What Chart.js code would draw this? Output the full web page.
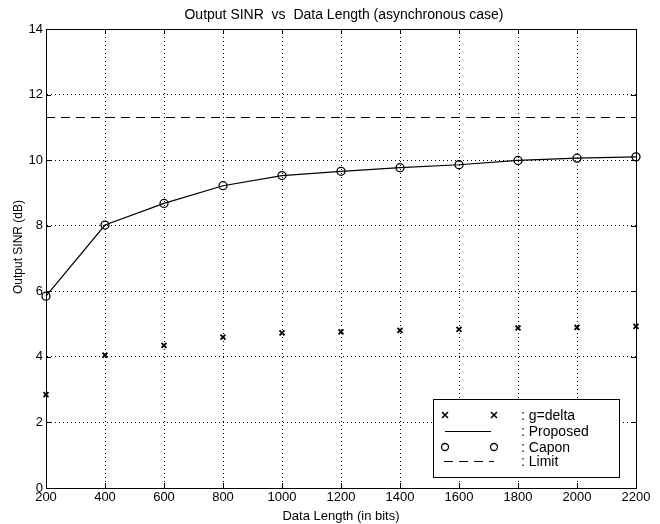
<!DOCTYPE html>
<html>
<head>
<meta charset="utf-8">
<script src="https://cdn.jsdelivr.net/npm/chart.js@4.4.0/dist/chart.umd.min.js"></script>
<style>
  html, body { margin: 0; padding: 0; background: #fff; }
  #wrap { width: 660px; height: 524px; }
</style>
</head>
<body>
<div id="wrap"><canvas id="sinrChart"></canvas></div>
<script>
// data
const dataLength = [200, 400, 600, 800, 1000, 1200, 1400, 1600, 1800, 2000, 2200];
const gDelta   = [2.85, 4.05, 4.35, 4.6, 4.73, 4.76, 4.81, 4.84, 4.88, 4.9, 4.93];
const proposed = [5.85, 8.02, 8.68, 9.22, 9.53, 9.66, 9.77, 9.86, 9.99, 10.06, 10.1];
const capon    = [5.85, 8.02, 8.68, 9.22, 9.53, 9.66, 9.77, 9.86, 9.99, 10.06, 10.1];
const limitSINR = 11.3;
const xTicks = [200, 400, 600, 800, 1000, 1200, 1400, 1600, 1800, 2000, 2200];
const yTicks = [0, 2, 4, 6, 8, 10, 12, 14];

const font = "'Liberation Sans', Arial, Helvetica, sans-serif";

const toPts = ys => dataLength.map((x, i) => ({ x: x, y: ys[i] }));

// frame, inward ticks, title, y label and legend, matlab style
const matlabBits = {
    id: 'matlabBits',
    afterDraw(chart) {
        const c = chart.ctx;
        const a = chart.chartArea;
        const sx = chart.scales.x, sy = chart.scales.y;
        c.save();
        c.strokeStyle = '#000';
        c.lineWidth = 1;
        c.strokeRect(a.left + 0.5, a.top + 0.5, a.right - a.left, a.bottom - a.top);

        // little inward ticks on all four sides
        c.beginPath();
        xTicks.forEach(v => {
            const px = Math.round(sx.getPixelForValue(v)) + 0.5;
            c.moveTo(px, a.bottom); c.lineTo(px, a.bottom - 5);
            c.moveTo(px, a.top); c.lineTo(px, a.top + 5);
        });
        yTicks.forEach(v => {
            const py = Math.round(sy.getPixelForValue(v)) + 0.5;
            c.moveTo(a.left, py); c.lineTo(a.left + 5, py);
            c.moveTo(a.right, py); c.lineTo(a.right - 5, py);
        });
        c.stroke();

        c.fillStyle = '#000';
        c.font = '14px ' + font;
        c.textAlign = 'center';
        c.textBaseline = 'middle';
        c.fillText('Output SINR  vs  Data Length (asynchronous case)', 344, 15);

        c.save();
        c.translate(19, 247);
        c.rotate(-Math.PI / 2);
        c.font = '12px ' + font;
        c.fillText('Output SINR (dB)', 0, 0);
        c.restore();

        // legend box
        const bx = 433, by = 399, bw = 186, bh = 78;
        c.fillStyle = '#fff';
        c.fillRect(bx, by, bw, bh);
        c.strokeRect(bx + 0.5, by + 0.5, bw, bh);

        const rows = [415, 431, 447, 461];
        const x1 = 445, x2 = 494;
        c.strokeStyle = '#000';
        c.lineWidth = 1.6;
        [x1, x2].forEach(x => {
            c.beginPath();
            c.moveTo(x - 3, rows[0] - 3); c.lineTo(x + 3, rows[0] + 3);
            c.moveTo(x + 3, rows[0] - 3); c.lineTo(x - 3, rows[0] + 3);
            c.stroke();
        });
        c.lineWidth = 1.2;
        c.beginPath();
        c.moveTo(445, rows[1] + 0.5); c.lineTo(491, rows[1] + 0.5);
        c.stroke();
        c.lineWidth = 1.3;
        [x1, x2].forEach(x => {
            c.beginPath();
            c.arc(x, rows[2], 3.5, 0, Math.PI * 2);
            c.stroke();
        });
        c.lineWidth = 1.2;
        c.setLineDash([9, 6]);
        c.beginPath();
        c.moveTo(444, rows[3] + 0.5); c.lineTo(494, rows[3] + 0.5);
        c.stroke();
        c.setLineDash([]);

        c.fillStyle = '#000';
        c.font = '14px ' + font;
        c.textAlign = 'left';
        chart.data.datasets.forEach((ds, i) => {
            c.fillText(': ' + ds.label, 521, rows[i] + 1);
        });
        c.restore();
    }
};

new Chart(document.getElementById('sinrChart'), {
    type: 'scatter',
    data: {
        datasets: [
            {
                label: 'g=delta',
                data: toPts(gDelta),
                showLine: false,
                clip: false,
                pointStyle: 'crossRot',
                pointRadius: 3.5,
                pointBorderWidth: 1.8,
                borderColor: '#000',
                backgroundColor: '#000'
            },
            {
                label: 'Proposed',
                data: toPts(proposed),
                showLine: true,
                clip: false,
                pointRadius: 0,
                borderColor: '#000',
                borderWidth: 1.2,
                tension: 0
            },
            {
                label: 'Capon',
                data: toPts(capon),
                showLine: false,
                clip: false,
                pointStyle: 'circle',
                pointRadius: 4,
                pointBorderWidth: 1.3,
                borderColor: '#000',
                backgroundColor: 'rgba(0,0,0,0)'
            },
            {
                label: 'Limit',
                data: [{ x: dataLength[0], y: limitSINR }, { x: dataLength[dataLength.length - 1], y: limitSINR }],
                showLine: true,
                pointRadius: 0,
                borderColor: '#000',
                borderWidth: 1.2,
                borderDash: [9, 6]
            }
        ]
    },
    options: {
        responsive: true,
        maintainAspectRatio: false,
        animation: false,
        layout: { padding: { top: 29, right: 24, left: 0, bottom: 0 } },
        plugins: {
            legend: { display: false },
            title: { display: false },
            tooltip: { enabled: false }
        },
        scales: {
            x: {
                type: 'linear',
                min: 200,
                max: 2200,
                afterBuildTicks: s => { s.ticks = xTicks.map(v => ({ value: v })); },
                afterFit: s => { s.height = 36; },
                grid: { color: '#000', lineWidth: 1, drawTicks: false },
                border: { display: true, color: '#000', dash: [1, 3] },
                ticks: { color: '#000', padding: 2, maxRotation: 0, font: { family: font, size: 13 }, callback: v => String(v) },
                title: { display: true, text: 'Data Length (in bits)', color: '#000', padding: { top: 0, bottom: 0 }, font: { family: font, size: 13 } }
            },
            y: {
                min: 0,
                max: 14,
                afterBuildTicks: s => { s.ticks = yTicks.map(v => ({ value: v })); },
                afterFit: s => { s.width = 46; },
                grid: { color: '#000', lineWidth: 1, drawTicks: false },
                border: { display: true, color: '#000', dash: [1, 3] },
                ticks: { color: '#000', padding: 3, font: { family: font, size: 13 }, callback: v => String(v) },
                title: { display: false }
            }
        }
    },
    plugins: [matlabBits]
});
</script>
</body>
</html>
